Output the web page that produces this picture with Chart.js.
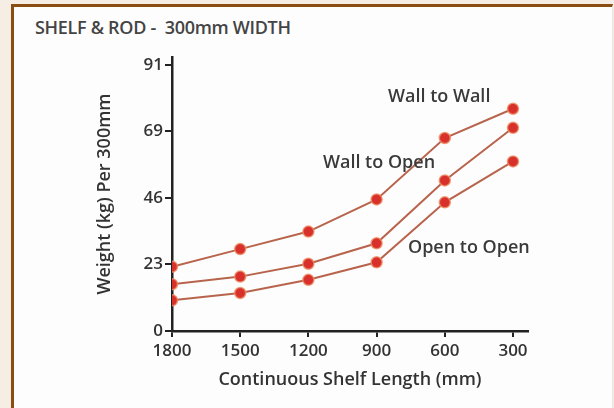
<!DOCTYPE html>
<html>
<head>
<meta charset="utf-8">
<script src="https://cdn.jsdelivr.net/npm/chart.js@4.4.0/dist/chart.umd.min.js"></script>
<style>
  html, body { margin: 0; padding: 0; }
  body { width: 614px; height: 408px; background: #f6eee4; position: relative; overflow: hidden; font-family: "Open Sans", sans-serif; }
  #frame { position: absolute; left: 11px; top: 4px; right: 1px; bottom: 0; background: #fdfdfd;
           border-left: 3px solid #8a4e12; border-top: 3px solid #8a4e12; border-right: 1px solid #ece6de; }
  #title { position: absolute; left: 35px; top: 15px; font-size: 18px; font-weight: 600; color: #444; letter-spacing: -0.3px; }
  #wrap { position: absolute; left: 0; top: 0; width: 614px; height: 408px; }
</style>
</head>
<body>
<div id="frame"></div>
<div id="title">SHELF &amp; ROD -&nbsp; 300mm WIDTH</div>
<div id="wrap"><canvas id="chart"></canvas></div>
<script>
var lengths = [1800, 1500, 1200, 900, 600, 300];
var yTicks = [0, 22.75, 45.5, 68.25, 91];
var yTickLabels = ['0', '23', '46', '69', '91'];
var wallToWall = [22, 28, 34, 45, 66, 76];
var wallToOpen = [16, 18.6, 23, 30, 51.5, 69.5];
var openToOpen = [10.5, 13, 17.5, 23.5, 44, 58];
var seriesNames = ['Wall to Wall', 'Wall to Open', 'Open to Open'];

// where each series name is written, in data units
var labelSpots = [
  { x: 850, y: 80 },
  { x: 1136, y: 57.5 },
  { x: 762, y: 28.5 }
];

function makeSet(name, values) {
  return {
    label: name,
    data: lengths.map(function (l, i) { return { x: l, y: values[i] }; }),
    borderColor: '#b8644c',
    borderWidth: 2,
    pointRadius: 5.5,
    pointBackgroundColor: '#d8302a',
    pointBorderColor: 'rgba(238,140,100,0.8)',
    pointBorderWidth: 1.5,
    tension: 0
  };
}

var seriesLabels = {
  id: 'seriesLabels',
  afterDatasetsDraw: function (chart) {
    var ctx = chart.ctx;
    ctx.save();
    ctx.font = '600 18px "Open Sans"';
    ctx.fillStyle = '#3a3a3a';
    ctx.textAlign = 'left';
    ctx.textBaseline = 'middle';
    seriesNames.forEach(function (n, i) {
      var px = chart.scales.x.getPixelForValue(labelSpots[i].x);
      var py = chart.scales.y.getPixelForValue(labelSpots[i].y);
      ctx.fillText(n, px, py);
    });
    ctx.restore();
  }
};

var tickFont = { family: 'Open Sans', size: 17, weight: '600' };
var titleFont = { family: 'Open Sans', size: 18, weight: '600' };

new Chart(document.getElementById('chart'), {
  type: 'line',
  data: {
    datasets: [
      makeSet(seriesNames[0], wallToWall),
      makeSet(seriesNames[1], wallToOpen),
      makeSet(seriesNames[2], openToOpen)
    ]
  },
  options: {
    responsive: true,
    maintainAspectRatio: false,
    animation: false,
    layout: { padding: { left: 94, top: 57, right: 86, bottom: 17 } },
    plugins: { legend: { display: false }, tooltip: { enabled: false }, title: { display: false } },
    scales: {
      x: {
        type: 'linear',
        reverse: true,
        min: 234,
        max: 1800,
        afterBuildTicks: function (s) { s.ticks = lengths.map(function (v) { return { value: v }; }); },
        afterFit: function (s) { s.height = 60; },
        border: { color: '#222', width: 2.5 },
        grid: { drawOnChartArea: false, tickLength: 6, color: '#222', lineWidth: 2 },
        ticks: { color: '#333', font: tickFont, padding: 4, maxRotation: 0, callback: function (v) { return String(v); } },
        title: { display: true, text: 'Continuous Shelf Length (mm)', color: '#333', font: titleFont, padding: 0 }
      },
      y: {
        min: 0,
        max: 93.7,
        afterBuildTicks: function (s) { s.ticks = yTicks.map(function (v) { return { value: v }; }); },
        afterFit: function (s) { s.width = 78; },
        border: { color: '#222', width: 2.5 },
        grid: { drawOnChartArea: false, tickLength: 7, color: '#222', lineWidth: 2 },
        ticks: { color: '#333', font: tickFont, padding: 2, callback: function (v, i) { return yTickLabels[i]; } },
        title: { display: true, text: 'Weight (kg) Per 300mm', color: '#333', font: titleFont, padding: 0 }
      }
    }
  },
  plugins: [seriesLabels]
});
</script>
</body>
</html>
